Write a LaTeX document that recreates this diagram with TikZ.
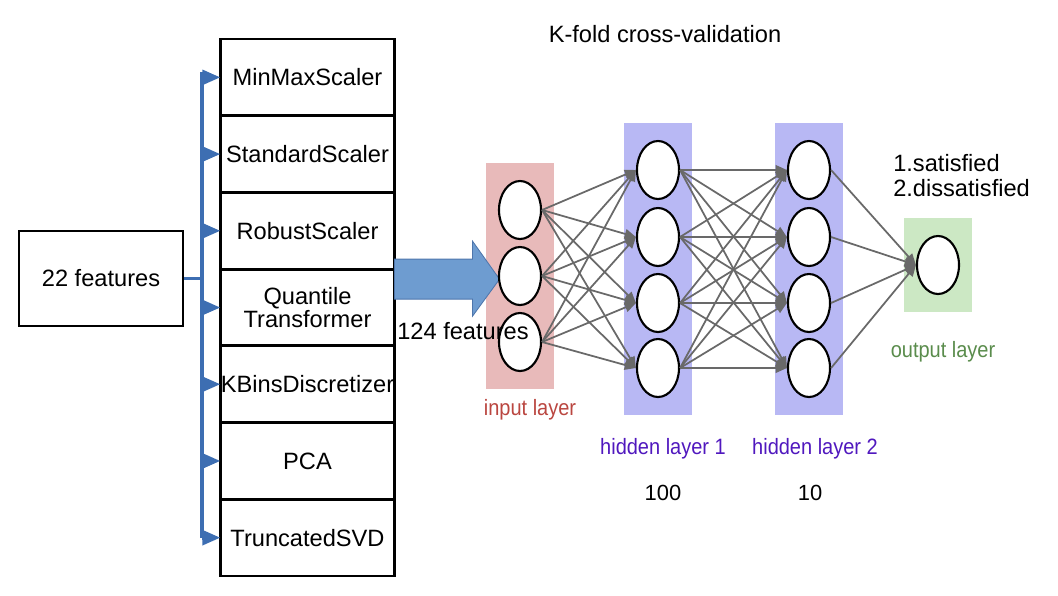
\documentclass[tikz,border=0pt]{standalone}
\usepackage{fontspec}
\setmainfont{Liberation Sans}
\newfontfamily\narrowfont[FakeStretch=0.9]{Liberation Sans}
\usetikzlibrary{shapes, arrows.meta, positioning, fit, backgrounds, calc}

\definecolor{brkblue}{RGB}{61,110,178}
\definecolor{arrfill}{RGB}{110,156,208}
\definecolor{arrline}{RGB}{78,118,172}
\definecolor{inpink}{RGB}{232,186,186}
\definecolor{hidlav}{RGB}{184,184,244}
\definecolor{outgreen}{RGB}{204,232,196}
\definecolor{inred}{RGB}{186,70,64}
\definecolor{hidpurple}{RGB}{80,24,190}
\definecolor{outtext}{RGB}{90,140,76}
\definecolor{edgegray}{RGB}{105,105,105}

\tikzset{
  stackbox/.style={draw, line width=2pt, minimum width=4.35cm, minimum height=1.9175cm,
    inner sep=0pt, outer sep=0pt, align=center},
  brk/.style={draw=brkblue, line width=2.8pt},
  brkarrow/.style={brk, -{Triangle[length=0.45cm,width=0.36cm]}},
  neuron/.style={draw, ellipse, fill=white, line width=1.5pt, minimum width=1.05cm,
    minimum height=1.45cm, inner sep=0pt},
  layerbox/.style={inner xsep=0.3cm, inner ysep=0.42cm},
  syn/.style={draw=edgegray, line width=1.25pt, -{Triangle[length=0.28cm,width=0.24cm]}},
  nnlabel/.style={font=\narrowfont\fontsize{15.8}{18}\selectfont},
}

\begin{document}
\begin{tikzpicture}[x=0.025cm, y=-0.025cm, font=\fontsize{16.8}{19}\selectfont, line join=miter]
  \useasboundingbox (0,0) rectangle (1058,595);

  % preprocessing
  \node[draw, line width=2pt, minimum width=4.1cm, minimum height=2.375cm] (feat) at (101,278.5) {22 features};
  \node[stackbox] (s1) at (307.5,77.35) {MinMaxScaler};
  \node[stackbox, below=0pt of s1] (s2) {StandardScaler};
  \node[stackbox, below=0pt of s2] (s3) {RobustScaler};
  \node[stackbox, below=0pt of s3] (s4) {Quantile\\[-2pt]Transformer};
  \node[stackbox, below=0pt of s4] (s5) {\makebox[4.3cm]{KBinsDiscretizer}};
  \node[stackbox, below=0pt of s5] (s6) {PCA};
  \node[stackbox, below=0pt of s6] (s7) {TruncatedSVD};

  \coordinate (spine) at (202,0);
  \draw[brk] (feat.east) -- (feat.east -| spine);
  \draw[brk] ($(spine |- s1.west)+(0,-5)$) -- (spine |- s7.west);
  \foreach \k in {1,...,7}
    \draw[brkarrow] (spine |- s\k.west) -- (s\k.west);

  % big arrow
  \coordinate (tail) at ($(s3.south east)+(0,10)$);
  \draw[fill=arrfill, draw=arrline, line width=0.6pt] (tail) ++(0,-20) -- ++(78,0) -- ++(0,-18)
    -- ++(27,38) -- ++(-27,37) -- ++(0,-17) -- ++(-78,0) -- cycle;

  % network
  \foreach \y [count=\k] in {210,276,342}
    \node[neuron] (i\k) at (520,\y) {};
  \foreach \y [count=\k] in {170,237,303,368} {
    \node[neuron] (a\k) at (658,\y) {};
    \node[neuron] (b\k) at (809,\y) {};
  }
  \node[neuron] (o) at (938,265) {};

  \begin{scope}[on background layer]
    \node[layerbox, fill=inpink, fit=(i1)(i3)] (inbox) {};
    \node[layerbox, fill=hidlav, fit=(a1)(a4)] (h1box) {};
    \node[layerbox, fill=hidlav, fit=(b1)(b4)] (h2box) {};
    \node[layerbox, fill=outgreen, fit=(o)] (outbox) {};
  \end{scope}

  \foreach \p in {1,2,3}
    \foreach \q in {1,...,4}
      \draw[syn] (i\p.east) -- (a\q.west);
  \foreach \p in {1,...,4}
    \foreach \q in {1,...,4}
      \draw[syn] (a\p.east) -- (b\q.west);
  \foreach \p in {1,...,4}
    \draw[syn] (b\p.east) -- (o.west);

  % labels
  \node[nnlabel, text=inred] (inlab) at (530,410) {input layer};
  \node[nnlabel, text=hidpurple] (h1lab) at (663,449) {hidden layer 1};
  \node[nnlabel, text=hidpurple] (h2lab) at (815,449) {hidden layer 2};
  \node[nnlabel, text=outtext] (outlab) at (943,352) {output layer};
  \node[font=\fontsize{15.6}{18}\selectfont] at (663,493) {100};
  \node[font=\fontsize{15.6}{18}\selectfont] at (810,493) {10};
  \node[] (kfold) at (665,34) {K-fold cross-validation};
  \node[align=left, anchor=west, inner sep=0pt] (classes) at (893,175.5) {1.satisfied\\[-1pt]2.dissatisfied};
  \node[] (nfeat) at (463,331) {124 features};
\end{tikzpicture}
\end{document}
